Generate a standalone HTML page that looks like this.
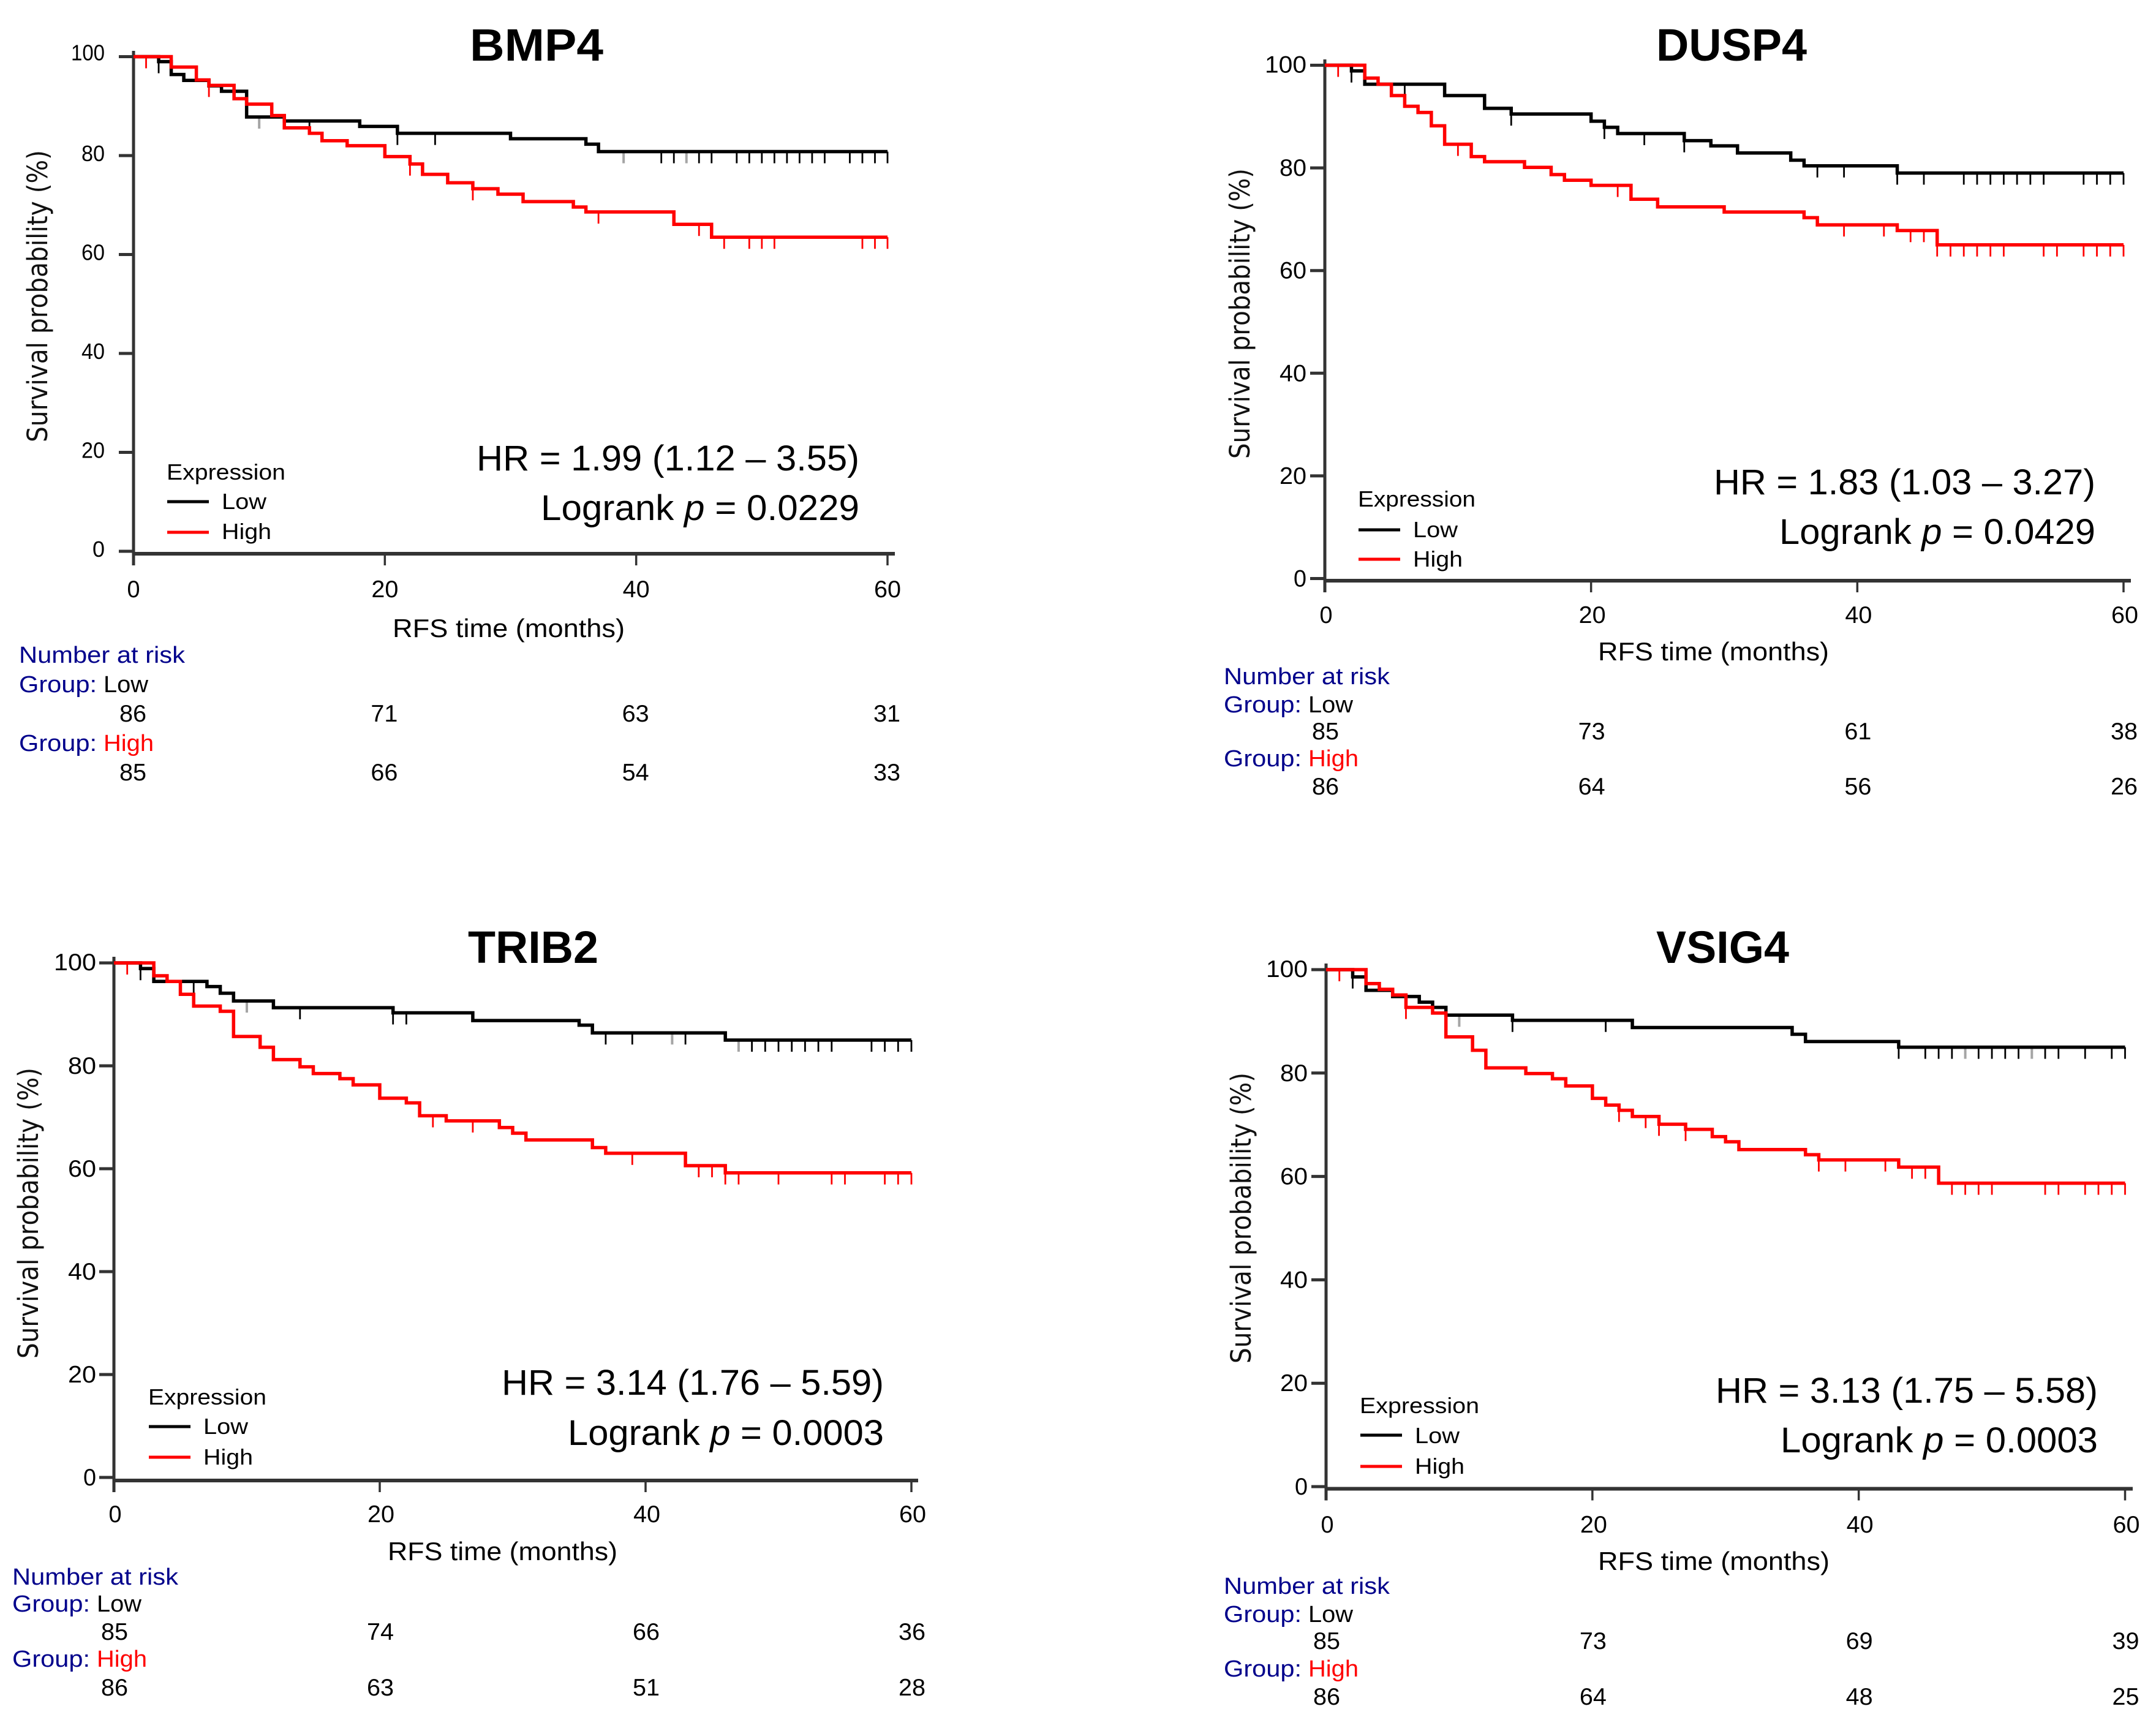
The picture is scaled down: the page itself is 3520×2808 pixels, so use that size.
<!DOCTYPE html>
<html lang="en">
<head>
<meta charset="utf-8">
<title>Kaplan-Meier RFS curves</title>
<style>
html,body{margin:0;padding:0;background:#fff;}
svg{display:block;}
</style>
</head>
<body>
<svg id="figure" xmlns="http://www.w3.org/2000/svg" width="3520" height="2808" viewBox="0 0 3520 2808"></svg>
<script>
const xTickValues = [0, 20, 40, 60];
const yTickValues = [0, 20, 40, 60, 80, 100];

const bmp4LowTimes = [0, 2, 3, 4, 6, 7, 9, 12, 18, 21, 30, 36, 37];
const bmp4LowSurvival = [100, 99, 96.4, 95.2, 94.1, 93, 87.8, 87, 85.9, 84.5, 83.4, 82.3, 80.8];
const bmp4LowCensor = [2, 14, 21, 24, 42, 43, 45, 46, 48, 49, 50, 51, 52, 53, 54, 55, 57, 58, 59, 60];
const bmp4LowCensorFaint = [10, 39, 44];
const bmp4HighTimes = [0, 3, 5, 6, 8, 9, 11, 12, 14, 15, 17, 20, 22, 23, 25, 27, 29, 31, 35, 36, 43, 46];
const bmp4HighSurvival = [100, 97.9, 95.3, 94.2, 91.5, 90.4, 88.1, 85.6, 84.5, 83, 82, 79.8, 78.3, 76.2, 74.5, 73.3, 72.2, 70.7, 69.6, 68.6, 66.1, 63.5];
const bmp4HighCensor = [1, 6, 22, 27, 37, 45, 47, 49, 50, 51, 58, 59, 60];
const bmp4RiskLow = [86, 71, 63, 31];
const bmp4RiskHigh = [85, 66, 54, 33];

const dusp4LowTimes = [0, 2, 3, 9, 12, 14, 20, 21, 22, 27, 29, 31, 35, 36, 43];
const dusp4LowSurvival = [100, 98.9, 96.3, 94.1, 91.6, 90.5, 89.1, 87.9, 86.7, 85.3, 84.3, 82.9, 81.5, 80.4, 79];
const dusp4LowCensor = [2, 6, 14, 21, 24, 27, 37, 39, 43, 45, 48, 49, 50, 51, 52, 53, 54, 57, 58, 59, 60];
const dusp4LowCensorFaint = [];
const dusp4HighTimes = [0, 3, 4, 5, 6, 7, 8, 9, 11, 12, 15, 17, 18, 20, 23, 25, 30, 36, 37, 43, 46];
const dusp4HighSurvival = [100, 97.5, 96.3, 94.1, 92, 90.8, 88.2, 84.6, 82.2, 81.2, 80.1, 78.7, 77.6, 76.6, 73.9, 72.4, 71.4, 70.3, 68.9, 67.8, 65];
const dusp4HighCensor = [1, 10, 22, 39, 42, 44, 45, 46, 47, 48, 49, 50, 51, 54, 55, 57, 58, 59, 60];
const dusp4RiskLow = [85, 73, 61, 38];
const dusp4RiskHigh = [86, 64, 56, 26];

const trib2LowTimes = [0, 2, 3, 7, 8, 9, 12, 21, 27, 35, 36, 46];
const trib2LowSurvival = [100, 98.9, 96.4, 95.4, 94.1, 92.6, 91.3, 90.3, 88.8, 87.9, 86.4, 85];
const trib2LowCensor = [2, 6, 14, 21, 22, 37, 39, 43, 48, 49, 50, 51, 52, 53, 54, 57, 58, 59, 60];
const trib2LowCensorFaint = [10, 42, 47];
const trib2HighTimes = [0, 3, 4, 5, 6, 8, 9, 11, 12, 14, 15, 17, 18, 20, 22, 23, 25, 29, 30, 31, 36, 37, 43, 46];
const trib2HighSurvival = [100, 97.5, 96.4, 93.9, 91.6, 90.6, 85.7, 83.6, 81.2, 79.8, 78.5, 77.5, 76.3, 73.7, 72.8, 70.3, 69.3, 68, 66.9, 65.6, 64.1, 63, 60.6, 59.2];
const trib2HighCensor = [1, 24, 27, 39, 44, 45, 46, 47, 50, 54, 55, 58, 59, 60];
const trib2RiskLow = [85, 74, 66, 36];
const trib2RiskHigh = [86, 63, 51, 28];

const vsig4LowTimes = [0, 2, 3, 5, 7, 8, 9, 14, 23, 35, 36, 43];
const vsig4LowSurvival = [100, 98.6, 96, 94.8, 93.7, 92.7, 91.2, 90.2, 88.8, 87.5, 86.1, 85];
const vsig4LowCensor = [2, 14, 21, 43, 45, 46, 47, 49, 50, 51, 52, 54, 55, 57, 59, 60];
const vsig4LowCensorFaint = [10, 48, 53];
const vsig4HighTimes = [0, 3, 4, 5, 6, 8, 9, 11, 12, 15, 17, 18, 20, 21, 22, 23, 25, 27, 29, 30, 31, 36, 37, 43, 46];
const vsig4HighSurvival = [100, 97.3, 96.2, 95.1, 92.7, 91.6, 87, 84.4, 81, 79.9, 78.9, 77.5, 75.1, 73.8, 72.8, 71.6, 70.1, 69.1, 67.7, 66.7, 65.2, 64.2, 63.2, 61.8, 58.7];
const vsig4HighCensor = [1, 6, 22, 24, 25, 27, 37, 39, 42, 44, 45, 47, 48, 49, 50, 54, 55, 57, 58, 59, 60];
const vsig4RiskLow = [85, 73, 69, 39];
const vsig4RiskHigh = [86, 64, 48, 25];

const NS = 'http://www.w3.org/2000/svg';
const SANS = '"Liberation Sans", sans-serif';
const figure = document.getElementById('figure');

function addText(parent, name, str, x, y, size, width, o) {
  o = o || {};
  const el = document.createElementNS(NS, 'text');
  
  
  el.setAttribute('x', x);
  el.setAttribute('y', y);
  el.setAttribute('font-size', size);
  el.setAttribute('font-family', o.family || SANS);
  el.setAttribute('fill', o.color || '#000');
  if (o.weight) el.setAttribute('font-weight', o.weight);
  if (o.anchor) el.setAttribute('text-anchor', o.anchor);
  if (o.rotate) el.setAttribute('transform', 'rotate(-90 ' + x + ' ' + y + ')');
  if (width) {
    el.setAttribute('textLength', width);
    el.setAttribute('lengthAdjust', 'spacingAndGlyphs');
  }
  if (o.italicWord) {
    el.appendChild(document.createTextNode(str[0]));
    const it = document.createElementNS(NS, 'tspan');
    it.setAttribute('font-style', 'italic');
    it.textContent = o.italicWord;
    el.appendChild(it);
    el.appendChild(document.createTextNode(str[1]));
  } else {
    el.textContent = str;
  }
  parent.appendChild(el);
  return el;
}

function addLine(parent, name, x1, y1, x2, y2, color, w, op) {
  const el = document.createElementNS(NS, 'line');
  
  
  el.setAttribute('x1', x1);
  el.setAttribute('y1', y1);
  el.setAttribute('x2', x2);
  el.setAttribute('y2', y2);
  el.setAttribute('stroke', color);
  el.setAttribute('stroke-width', w);
  if (op) el.setAttribute('opacity', op);
  parent.appendChild(el);
}

function survivalAt(times, values, t) {
  let v = values[0];
  for (let i = 0; i < times.length; i++) {
    if (times[i] <= t) v = values[i];
  }
  return v;
}

function drawCurve(g, name, times, values, censor, faint, color, xs, ys) {
  const parts = ['M' + xs(times[0]) + ' ' + ys(values[0])];
  for (let i = 1; i < times.length; i++) {
    parts.push('H' + xs(times[i]) + 'V' + ys(values[i]));
  }
  parts.push('H' + xs(60));
  censor.forEach(function (t) {
    const yy = ys(survivalAt(times, values, t));
    addLine(g, name + '-censor-mark', xs(t), yy, xs(t), yy + 19, color, 2.8);
  });
  faint.forEach(function (t) {
    const yy = ys(survivalAt(times, values, t));
    addLine(g, name + '-censor-mark', xs(t), yy, xs(t), yy + 19, color, 4, 0.35);
  });
  const p = document.createElementNS(NS, 'path');
  
  
  p.setAttribute('d', parts.join(''));
  p.setAttribute('fill', 'none');
  p.setAttribute('stroke', color);
  p.setAttribute('stroke-width', 5.5);
  g.appendChild(p);
}

function drawPanel(c) {
  const g = document.createElementNS(NS, 'g');
  
  
  figure.appendChild(g);

  const xs = function (t) { return c.x0 + t * (c.x60 - c.x0) / 60; };
  const ys = function (v) { return c.y0 - v * (c.y0 - c.y100) / 100; };
  const axisY = c.y0 + c.axisGap;
  const axisColor = '#333';

  addText(g, c.id + '-title', c.id.toUpperCase(), c.titleX, c.titleY, 74, c.titleW, { weight: 'bold' });

  addLine(g, 'y-axis-line', c.x0, c.yTop, c.x0, axisY + 19, axisColor, 5);
  addLine(g, 'x-axis-line', c.x0, axisY, c.xEnd, axisY, axisColor, 6);

  yTickValues.forEach(function (v) {
    addLine(g, 'y-axis-tick', c.x0 - 24, ys(v), c.x0, ys(v), axisColor, 5);
    const label = String(v);
    const w = label.length === 3 ? c.yLabel3 : label.length === 2 ? c.yLabel2 : c.yLabel1;
    const dy = label.length === 3 ? c.yLabelDy3 : c.yLabelDy;
    addText(g, 'y-tick-label', label, c.x0 - c.yLabelGap - w, ys(v) + dy, c.yLabelSize, w);
  });

  xTickValues.forEach(function (v, i) {
    addLine(g, 'x-axis-tick', xs(v), axisY, xs(v), axisY + 19, axisColor, 3.5);
    const label = String(v);
    addText(g, 'x-tick-label', label, xs(v) + c.labelDx + 1, c.xLabelY, 39, label.length === 1 ? 21 : 44, { anchor: 'middle' });
    addText(g, 'risk-low-count', String(c.riskLow[i]), xs(v) + c.labelDx, c.riskLowY, 39, 44, { anchor: 'middle' });
    addText(g, 'risk-high-count', String(c.riskHigh[i]), xs(v) + c.labelDx, c.riskHighY, 39, 44, { anchor: 'middle' });
  });

  addText(g, 'y-axis-title', 'Survival probability (%)', c.yTitleX, c.yTitleY, 45, c.yTitleW, { family: '"DejaVu Sans", sans-serif', rotate: true, color: '#111' });
  addText(g, 'x-axis-title', 'RFS time (months)', c.xTitleX, c.xTitleY, 42, c.xTitleW);

  drawCurve(g, 'low-series', c.lowTimes, c.lowSurvival, c.lowCensor, c.lowFaint, '#000', xs, ys);
  drawCurve(g, 'high-series', c.highTimes, c.highSurvival, c.highCensor, [], '#ff0000', xs, ys);

  addText(g, 'legend-title', 'Expression', c.legX, c.legTitleY, 36, c.legW);
  addLine(g, 'legend-low-line', c.legX + 1, c.legLowLine, c.legX + 69, c.legLowLine, '#000', 5);
  addLine(g, 'legend-high-line', c.legX + 1, c.legHighLine, c.legX + 69, c.legHighLine, '#ff0000', 5);
  addText(g, 'legend-low-label', 'Low', c.legX + 90, c.legLowY, 36, 73);
  addText(g, 'legend-high-label', 'High', c.legX + 90, c.legHighY, 36, 81);

  addText(g, 'hazard-ratio', c.hr, c.hrX, c.hrY, 58, c.hrW);
  addText(g, 'logrank-p', [ 'Logrank ', ' = ' + c.p ], c.lrX, c.lrY, 58, c.lrW, { italicWord: 'p' });

  const nav = '#00008b';
  addText(g, 'risk-table-title', 'Number at risk', c.riskX, c.riskTitleY, 38, 271, { color: nav });
  addText(g, 'risk-group-low', 'Group:', c.riskX, c.groupLowY, 38, 127, { color: nav });
  addText(g, 'risk-group-low-value', 'Low', c.riskX + 138, c.groupLowY, 38, 73);
  addText(g, 'risk-group-high', 'Group:', c.riskX, c.groupHighY, 38, 127, { color: nav });
  addText(g, 'risk-group-high-value', 'High', c.riskX + 138, c.groupHighY, 38, 82, { color: '#ff0000' });
}

drawPanel({
  id: 'bmp4', x0: 218, x60: 1449, y100: 92.5, y0: 900, axisGap: 4, yTop: 83, xEnd: 1461,
  titleX: 767, titleY: 99, titleW: 218, labelDx: -1,
  yLabelGap: 47, yLabel3: 55, yLabel2: 38, yLabel1: 20, yLabelDy: 9, yLabelDy3: 6, yLabelSize: 36,
  xLabelY: 975, yTitleX: 77, yTitleY: 722, yTitleW: 477,
  xTitleX: 641, xTitleY: 1040, xTitleW: 379,
  legX: 272, legW: 194, legTitleY: 783, legLowLine: 819, legHighLine: 869, legLowY: 831, legHighY: 880,
  hr: 'HR = 1.99 (1.12 \u2013 3.55)', hrX: 778, hrY: 768, hrW: 625,
  p: '0.0229', lrX: 883, lrY: 849, lrW: 520,
  riskX: 31, riskTitleY: 1082, groupLowY: 1130, riskLowY: 1178, groupHighY: 1226, riskHighY: 1274,
  lowTimes: bmp4LowTimes, lowSurvival: bmp4LowSurvival, lowCensor: bmp4LowCensor, lowFaint: bmp4LowCensorFaint,
  highTimes: bmp4HighTimes, highSurvival: bmp4HighSurvival, highCensor: bmp4HighCensor,
  riskLow: bmp4RiskLow, riskHigh: bmp4RiskHigh
});

drawPanel({
  id: 'dusp4', x0: 2163, x60: 3467, y100: 106.5, y0: 944.5, axisGap: 3.5, yTop: 97, xEnd: 3479,
  titleX: 2704, titleY: 99, titleW: 246, labelDx: 1,
  yLabelGap: 30, yLabel3: 68, yLabel2: 44, yLabel1: 21, yLabelDy: 13, yLabelDy3: 12, yLabelSize: 39,
  xLabelY: 1017, yTitleX: 2040, yTitleY: 749, yTitleW: 474,
  xTitleX: 2609, xTitleY: 1078, xTitleW: 377,
  legX: 2217, legW: 192, legTitleY: 827, legLowLine: 865, legHighLine: 913, legLowY: 877, legHighY: 925,
  hr: 'HR = 1.83 (1.03 \u2013 3.27)', hrX: 2798, hrY: 807, hrW: 623,
  p: '0.0429', lrX: 2905, lrY: 888, lrW: 516,
  riskX: 1998, riskTitleY: 1117, groupLowY: 1163, riskLowY: 1207, groupHighY: 1251, riskHighY: 1297,
  lowTimes: dusp4LowTimes, lowSurvival: dusp4LowSurvival, lowCensor: dusp4LowCensor, lowFaint: dusp4LowCensorFaint,
  highTimes: dusp4HighTimes, highSurvival: dusp4HighSurvival, highCensor: dusp4HighCensor,
  riskLow: dusp4RiskLow, riskHigh: dusp4RiskHigh
});

drawPanel({
  id: 'trib2', x0: 186, x60: 1488, y100: 1572, y0: 2412, axisGap: 5, yTop: 1562, xEnd: 1499,
  titleX: 764, titleY: 1572, titleW: 213, labelDx: 1,
  yLabelGap: 29, yLabel3: 69, yLabel2: 46, yLabel1: 21, yLabelDy: 13, yLabelDy3: 12, yLabelSize: 39,
  xLabelY: 2485, yTitleX: 62, yTitleY: 2218, yTitleW: 475,
  xTitleX: 633, xTitleY: 2547, xTitleW: 375,
  legX: 242, legW: 193, legTitleY: 2293, legLowLine: 2329, legHighLine: 2379, legLowY: 2341, legHighY: 2391,
  hr: 'HR = 3.14 (1.76 \u2013 5.59)', hrX: 819, hrY: 2277, hrW: 624,
  p: '0.0003', lrX: 927, lrY: 2359, lrW: 516,
  riskX: 20, riskTitleY: 2587, groupLowY: 2631, riskLowY: 2677, groupHighY: 2721, riskHighY: 2768,
  lowTimes: trib2LowTimes, lowSurvival: trib2LowSurvival, lowCensor: trib2LowCensor, lowFaint: trib2LowCensorFaint,
  highTimes: trib2HighTimes, highSurvival: trib2HighSurvival, highCensor: trib2HighCensor,
  riskLow: trib2RiskLow, riskHigh: trib2RiskHigh
});

drawPanel({
  id: 'vsig4', x0: 2165, x60: 3469.5, y100: 1583, y0: 2427, axisGap: 3.5, yTop: 1573, xEnd: 3482,
  titleX: 2704, titleY: 1572, titleW: 217, labelDx: 1,
  yLabelGap: 30, yLabel3: 68, yLabel2: 45, yLabel1: 21, yLabelDy: 13, yLabelDy3: 12, yLabelSize: 39,
  xLabelY: 2502, yTitleX: 2042, yTitleY: 2226, yTitleW: 475,
  xTitleX: 2609, xTitleY: 2563, xTitleW: 378,
  legX: 2220, legW: 195, legTitleY: 2307, legLowLine: 2343, legHighLine: 2394, legLowY: 2356, legHighY: 2406,
  hr: 'HR = 3.13 (1.75 \u2013 5.58)', hrX: 2801, hrY: 2290, hrW: 624,
  p: '0.0003', lrX: 2907, lrY: 2371, lrW: 518,
  riskX: 1998, riskTitleY: 2602, groupLowY: 2648, riskLowY: 2692, groupHighY: 2737, riskHighY: 2783,
  lowTimes: vsig4LowTimes, lowSurvival: vsig4LowSurvival, lowCensor: vsig4LowCensor, lowFaint: vsig4LowCensorFaint,
  highTimes: vsig4HighTimes, highSurvival: vsig4HighSurvival, highCensor: vsig4HighCensor,
  riskLow: vsig4RiskLow, riskHigh: vsig4RiskHigh
});
</script>
</body>
</html>
